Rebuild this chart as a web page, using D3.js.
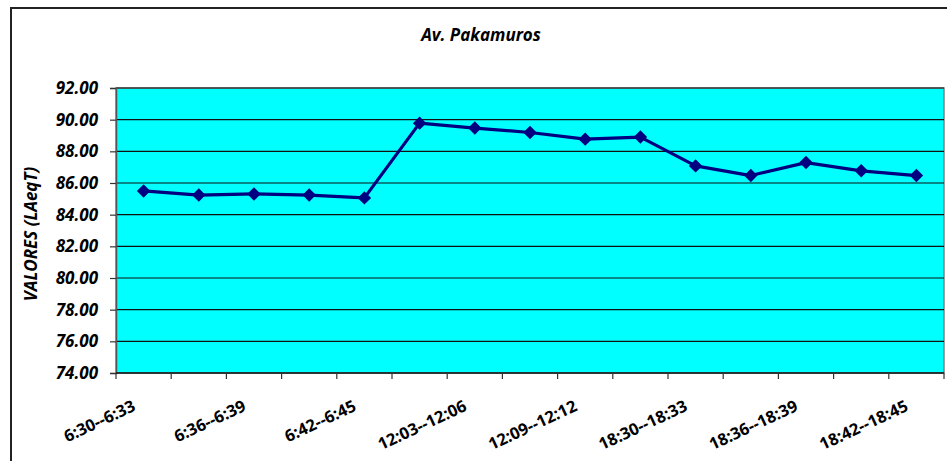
<!DOCTYPE html>
<html>
<head>
<meta charset="utf-8">
<script src="https://cdn.jsdelivr.net/npm/d3@7"></script>
<style>
  html, body { margin: 0; padding: 0; background: #fff; }
  svg { display: block; }
  text { font-family: "Open Sans", Lato, sans-serif; fill: #000; }
</style>
</head>
<body>
<svg id="chart" width="947" height="461"></svg>
<script>
// Noise measurements per 3-minute interval
const categories = [
  "6:30--6:33", "6:33--6:36", "6:36--6:39", "6:39--6:42", "6:42--6:45",
  "12:00--12:03", "12:03--12:06", "12:06--12:09", "12:09--12:12", "12:12--12:15",
  "18:30--18:33", "18:33--18:36", "18:36--18:39", "18:39--18:42", "18:42--18:45"
];
const values = [
  85.50, 85.24, 85.31, 85.24, 85.06,
  89.78, 89.47, 89.19, 88.77, 88.90,
  87.08, 86.47, 87.29, 86.77, 86.47
];
const yTicks = [74, 76, 78, 80, 82, 84, 86, 88, 90, 92];
const chartTitle = "Av. Pakamuros";
const yTitle = "VALORES (LAeqT)";

const svg = d3.select("#chart");
const plot = { left: 116, right: 944, top: 88, bottom: 373 };

// Outer chart frame
svg.append("rect")
  .attr("x", 11).attr("y", 8)
  .attr("width", 960).attr("height", 470)
  .attr("fill", "#fff").attr("stroke", "#222").attr("stroke-width", 2);

const x = d3.scaleBand()
  .domain(categories)
  .range([plot.left, plot.right])
  .paddingInner(0).paddingOuter(0);

const y = d3.scaleLinear()
  .domain([74, 92])
  .range([plot.bottom, plot.top]);

// Plot background
svg.append("rect")
  .attr("x", plot.left).attr("y", plot.top)
  .attr("width", plot.right - plot.left)
  .attr("height", plot.bottom - plot.top)
  .attr("fill", "#00FFFF")
  .attr("stroke", "#808080").attr("stroke-width", 1.5);

// Horizontal gridlines
svg.append("g")
  .selectAll("line")
  .data(yTicks.filter(v => v > 74))
  .join("line")
  .attr("x1", plot.left).attr("x2", plot.right)
  .attr("y1", d => y(d)).attr("y2", d => y(d))
  .attr("stroke", "#111").attr("stroke-width", 1.2);

// Y axis
const yAxis = d3.axisLeft(y)
  .tickValues(yTicks)
  .tickFormat(d3.format(".2f"))
  .tickSize(6)
  .tickPadding(12);
const gy = svg.append("g")
  .attr("transform", `translate(${plot.left},0)`)
  .call(yAxis);
gy.select(".domain").attr("stroke", "#555").attr("stroke-width", 1.5);
gy.selectAll(".tick line").attr("stroke", "#333").attr("stroke-width", 1.2);
gy.selectAll(".tick text")
  .style("font-family", "'Open Sans', sans-serif")
  .style("font-size", "17px")
  .style("font-weight", "bold")
  .style("font-style", "italic");

// X axis: ticks at category boundaries, labels on every other category
const gx = svg.append("g").attr("transform", `translate(0,${plot.bottom})`);
gx.append("line")
  .attr("x1", plot.left).attr("x2", plot.right)
  .attr("y1", 0).attr("y2", 0)
  .attr("stroke", "#111").attr("stroke-width", 1.5);
const boundaries = categories.map(c => x(c)).concat([x.range()[1]]);
gx.selectAll("line.tick")
  .data(boundaries)
  .join("line")
  .attr("class", "tick")
  .attr("x1", d => d).attr("x2", d => d)
  .attr("y1", 0).attr("y2", 6)
  .attr("stroke", "#333").attr("stroke-width", 1.2);
gx.selectAll("text")
  .data(categories.filter((c, i) => i % 2 === 0))
  .join("text")
  .attr("transform", d => `translate(${x(d) + x.bandwidth() / 2 - 7},37) rotate(-25)`)
  .attr("text-anchor", "end")
  .style("font-size", "16.5px")
  .style("font-weight", "bold")
  .text(d => d);

// Series line
const line = d3.line()
  .x((d, i) => x(categories[i]) + x.bandwidth() / 2)
  .y(d => y(d));
svg.append("path")
  .datum(values)
  .attr("d", line)
  .attr("fill", "none")
  .attr("stroke", "#000080")
  .attr("stroke-width", 3.2)
  .attr("stroke-linejoin", "round");

// Diamond markers
const diamond = d3.symbol().type(d3.symbolDiamond2).size(115);
svg.append("g")
  .selectAll("path")
  .data(values)
  .join("path")
  .attr("transform", (d, i) => `translate(${x(categories[i]) + x.bandwidth() / 2},${y(d)})`)
  .attr("d", diamond)
  .attr("fill", "#000080");

// Titles
svg.append("text")
  .attr("x", 481).attr("y", 41)
  .attr("text-anchor", "middle")
  .style("font-size", "17px")
  .style("font-weight", "bold")
  .style("font-style", "italic")
  .text(chartTitle);

svg.append("text")
  .attr("transform", "translate(37,234) rotate(-90)")
  .attr("text-anchor", "middle")
  .style("font-size", "17px")
  .style("font-weight", "bold")
  .style("font-style", "italic")
  .text(yTitle);
</script>
</body>
</html>
